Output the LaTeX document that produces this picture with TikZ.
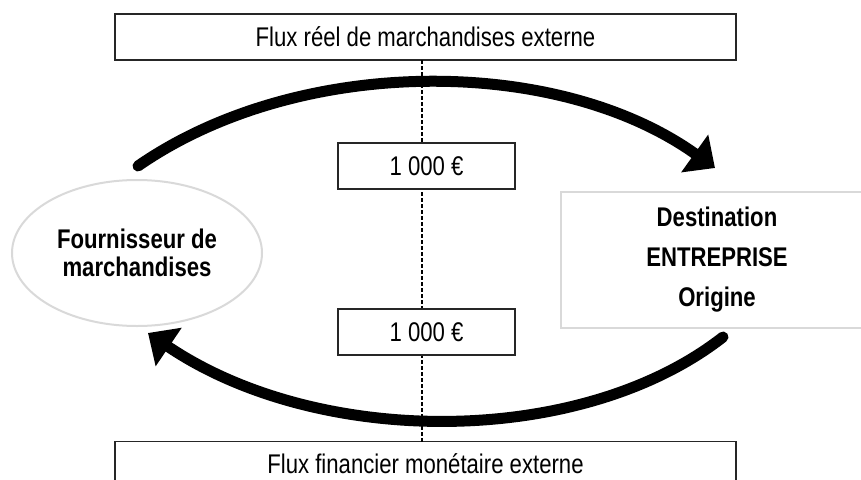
\documentclass[tikz,border=0pt]{standalone}
\usepackage{fontspec}
\setmainfont{Liberation Sans}[FakeStretch=0.82]
\usetikzlibrary{arrows.meta,shapes.geometric}
\definecolor{lightframe}{HTML}{D9D9D9}
\definecolor{darkframe}{HTML}{262626}
\tikzset{
  flowbox/.style={draw=darkframe, line width=1.3pt, fill=white, inner sep=0pt,
    font=\fontsize{27}{29}\selectfont},
  bigarrow/.style={line width=11pt, line cap=round,
    -{Triangle[length=25pt,width=45pt]}},
  divider/.style={line width=1.2pt, dash pattern=on 3.5pt off 2.5pt},
}
\begin{document}
\begin{tikzpicture}[x=1pt,y=-1pt]
\useasboundingbox (0,0) rectangle (861,479);
\clip (0,0) rectangle (861,479);
% boxes
\node[flowbox, minimum width=621pt, minimum height=46pt] (reel) at (425.5,37) {Flux réel de marchandises externe};
\node[flowbox, minimum width=621pt, minimum height=44pt] (fin) at (425.5,463.5) {Flux financier monétaire externe};
% dashed divider
\coordinate (dtop) at (422,60);
\coordinate (dbot) at (422,442);
\draw[divider] (dtop) -- (dbot);
\node[flowbox, minimum width=177pt, minimum height=46pt] (m1) at (426.5,166) {1 000 €};
\node[flowbox, minimum width=177pt, minimum height=46pt] (m2) at (426.5,332) {1 000 €};
% actors
\node[ellipse, draw=lightframe, line width=2pt, fill=white, inner sep=0pt,
  minimum width=250pt, minimum height=146pt, align=center,
  font=\fontsize{27}{28.5}\selectfont\bfseries] (four) at (137,253) {Fournisseur de\\marchandises};
\node[draw=lightframe, line width=2.5pt, fill=white, inner sep=0pt,
  minimum width=312pt, minimum height=136pt, align=center,
  font=\fontsize{27}{40}\selectfont\bfseries] (ent) at (717,260) {Destination\\ENTREPRISE\\Origine};
% flows
\coordinate (s1) at (138,166);
\coordinate (e1) at (715,168);
\coordinate (s2) at (723,337);
\coordinate (e2) at (148,333);
\draw[bigarrow] (s1) .. controls (298,55) and (557,55) .. (e1);
\draw[bigarrow] (s2) .. controls (581,448) and (318,448) .. (e2);
\end{tikzpicture}
\end{document}
